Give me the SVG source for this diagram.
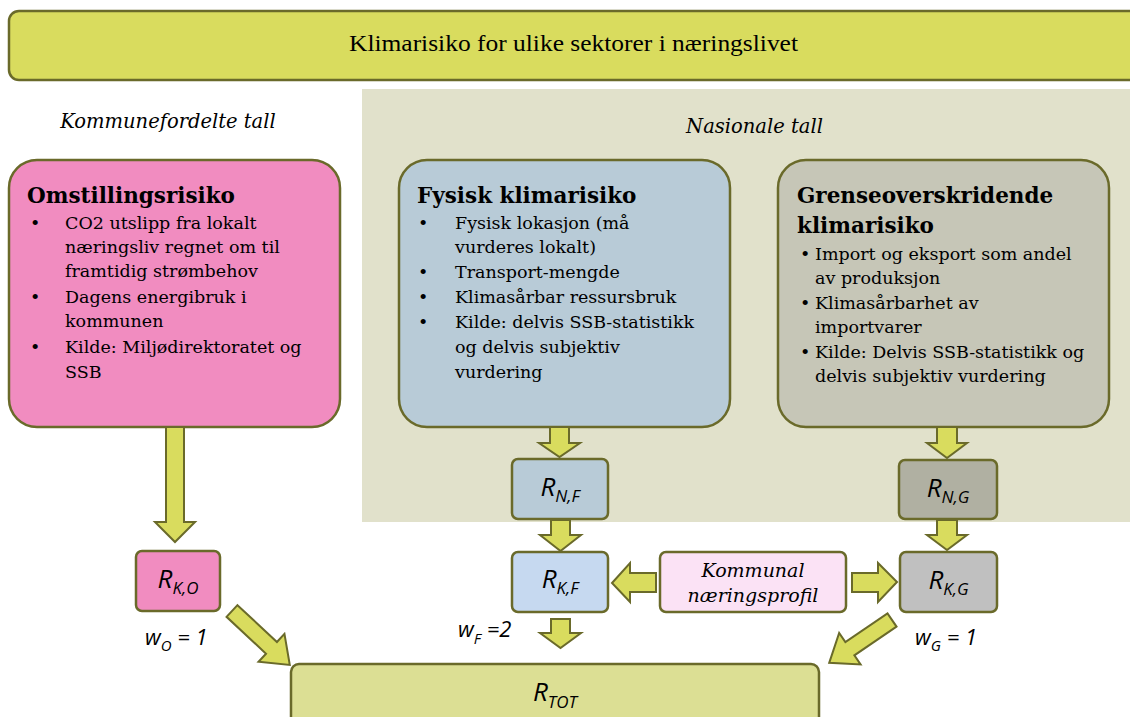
<svg xmlns="http://www.w3.org/2000/svg" width="1130" height="717" viewBox="0 0 1130 717">
<style>
.box{stroke:#6a6a2a;stroke-width:2.5}
.arr{fill:#d9dc5e;stroke:#6a6a2a;stroke-width:2;stroke-linejoin:miter}
.serif{font-family:"DejaVu Serif","Liberation Serif",serif;fill:#000}
.body{font-size:17.5px}
.ttl{font-size:21.5px;font-weight:bold}
.ital{font-family:"DejaVu Serif","Liberation Serif",serif;font-style:italic;font-size:19.5px;fill:#000}
.ital2{font-family:"DejaVu Serif","Liberation Serif",serif;font-style:italic;font-size:19px;fill:#000}
.math{font-family:"Open Sans","DejaVu Sans",sans-serif;font-style:italic;fill:#000}
.R{font-size:26px}
.sub{font-size:17px}
</style>
<rect x="0" y="0" width="1130" height="717" fill="#ffffff"/>
<g id="panel-nasjonal">
<rect x="362" y="89" width="768" height="433" fill="#e1e1cb"/>
<text class="ital" x="754.5" y="133" text-anchor="middle">Nasionale tall</text>
</g>
<g id="banner">
<rect class="box" x="9" y="11" width="1130" height="69" rx="10" fill="#d9dc5e"/>
<text x="573.5" y="51" text-anchor="middle" font-family="Liberation Serif, serif" font-size="24" textLength="449" lengthAdjust="spacingAndGlyphs">Klimarisiko for ulike sektorer i næringslivet</text>
</g>
<g id="label-kommune">
<text class="ital" x="168" y="128" text-anchor="middle">Kommunefordelte tall</text>
</g>
<g id="omstilling">
<rect class="box" x="9" y="160" width="331" height="267" rx="28" fill="#f18cc0"/>
<text class="serif ttl" x="27" y="203">Omstillingsrisiko</text>
<g class="serif body">
<text x="30" y="229">•</text><text x="65" y="229">CO2 utslipp fra lokalt</text>
<text x="65" y="253">næringsliv regnet om til</text>
<text x="65" y="277">framtidig strømbehov</text>
<text x="30" y="303">•</text><text x="65" y="303">Dagens energibruk i</text>
<text x="65" y="327">kommunen</text>
<text x="30" y="353">•</text><text x="65" y="353">Kilde: Miljødirektoratet og</text>
<text x="65" y="378">SSB</text>
</g>
</g>
<g id="fysisk">
<rect class="box" x="399" y="160" width="331" height="267" rx="28" fill="#b8cbd7"/>
<text class="serif ttl" x="417" y="203">Fysisk klimarisiko</text>
<g class="serif body">
<text x="418" y="229">•</text><text x="455" y="229">Fysisk lokasjon (må</text>
<text x="455" y="253">vurderes lokalt)</text>
<text x="418" y="278">•</text><text x="455" y="278">Transport-mengde</text>
<text x="418" y="303">•</text><text x="455" y="303">Klimasårbar ressursbruk</text>
<text x="418" y="328">•</text><text x="455" y="328">Kilde: delvis SSB-statistikk</text>
<text x="455" y="353">og delvis subjektiv</text>
<text x="455" y="378">vurdering</text>
</g>
</g>
<g id="grense">
<rect class="box" x="778" y="160" width="331" height="267" rx="28" fill="#c6c6b7"/>
<text class="serif ttl" x="797" y="203">Grenseoverskridende</text>
<text class="serif ttl" x="797" y="233">klimarisiko</text>
<g class="serif body">
<text x="800" y="260">•</text><text x="815" y="260">Import og eksport som andel</text>
<text x="815" y="284">av produksjon</text>
<text x="800" y="309">•</text><text x="815" y="309">Klimasårbarhet av</text>
<text x="815" y="333">importvarer</text>
<text x="800" y="358">•</text><text x="815" y="358">Kilde: Delvis SSB-statistikk og</text>
<text x="815" y="382">delvis subjektiv vurdering</text>
</g>
</g>
<g id="r-ko">
<rect class="box" x="136" y="551" width="84" height="60" rx="6" fill="#f18cc0"/>
<text class="math R" x="178" y="588" text-anchor="middle">R<tspan class="sub" dy="6">K,O</tspan></text>
</g>
<g id="r-nf">
<rect class="box" x="512" y="459" width="96" height="60" rx="6" fill="#b8cbd7"/>
<text class="math R" x="560" y="496" text-anchor="middle">R<tspan class="sub" dy="6">N,F</tspan></text>
</g>
<g id="r-kf">
<rect class="box" x="512" y="552" width="96" height="60" rx="6" fill="#c6d9f0"/>
<text class="math R" x="560" y="588" text-anchor="middle">R<tspan class="sub" dy="6">K,F</tspan></text>
</g>
<g id="r-ng">
<rect class="box" x="899" y="460" width="98" height="59" rx="6" fill="#b0b0a2"/>
<text class="math R" x="948" y="497" text-anchor="middle">R<tspan class="sub" dy="6">N,G</tspan></text>
</g>
<g id="r-kg">
<rect class="box" x="900" y="552" width="97" height="60" rx="6" fill="#c0c0c0"/>
<text class="math R" x="948.5" y="589" text-anchor="middle">R<tspan class="sub" dy="6">K,G</tspan></text>
</g>
<g id="kommunal">
<rect class="box" x="660" y="552" width="186" height="60" rx="6" fill="#fbe2f5"/>
<text class="ital2" x="753" y="577" text-anchor="middle">Kommunal</text>
<text class="ital2" x="753" y="602" text-anchor="middle">næringsprofil</text>
</g>
<g id="r-tot">
<rect class="box" x="291" y="664" width="528" height="80" rx="8" fill="#dcdf94"/>
<text class="math R" x="555" y="701" text-anchor="middle">R<tspan class="sub" dy="7">TOT</tspan></text>
</g>
<g id="weights" class="math">
<text x="145" y="645" font-size="22">w<tspan font-size="15" dy="6">O</tspan><tspan dy="-6"> = 1</tspan></text>
<text x="458" y="637" font-size="22">w<tspan font-size="15" dy="7">F</tspan><tspan dy="-7"> =2</tspan></text>
<text x="915" y="645" font-size="22">w<tspan font-size="15" dy="6">G</tspan><tspan dy="-6"> = 1</tspan></text>
</g>
<g id="connectors">
<polygon class="arr" points="166,427 184,427 184,522 195,522 175,542 155,522 166,522"/>
<polygon class="arr" points="550,427 569,427 569,443 580,443 559.5,457 539,443 550,443"/>
<polygon class="arr" points="551,520 570,520 570,535 581,535 560.5,551 540,535 551,535"/>
<polygon class="arr" points="551,619 570,619 570,633 581,633 560.5,648 540,633 551,633"/>
<polygon class="arr" points="937,427 957,427 957,443 967,443 947,458 927,443 937,443"/>
<polygon class="arr" points="937,520 957,520 957,535 967,535 947,550 927,535 937,535"/>
<polygon class="arr" points="656,573 656,592 630,592 630,602 612,583 630,563 630,573"/>
<polygon class="arr" points="852,573 878,573 878,563 897,582 878,602 878,592 852,592"/>
<polygon class="arr" transform="translate(232,611) rotate(43)" points="0,-8 54,-8 54,-19 79,0 54,19 54,8 0,8"/>
<polygon class="arr" transform="translate(892,620) rotate(145.7)" points="0,-8 51,-8 51,-19 76,0 51,19 51,8 0,8"/>
</g>
</svg>
